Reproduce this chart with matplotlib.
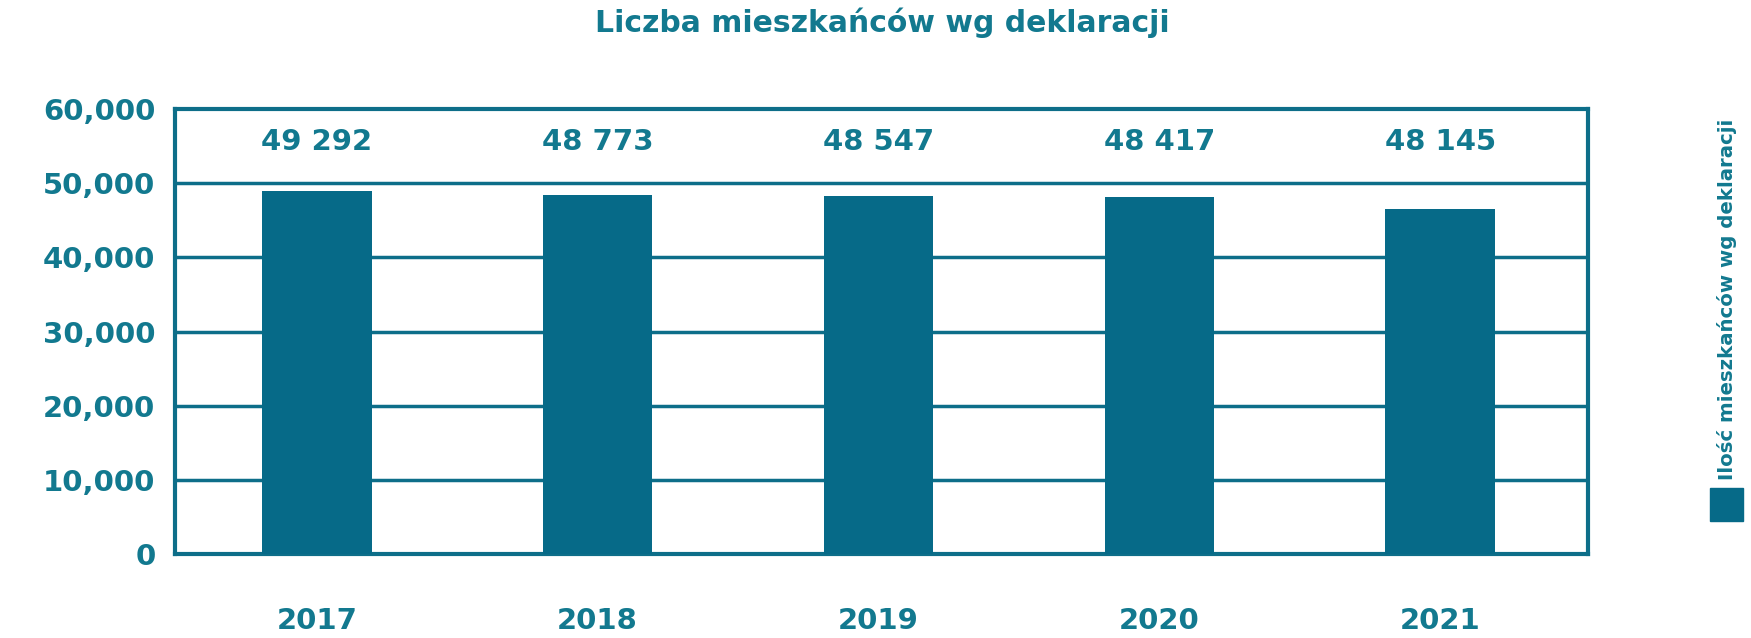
import matplotlib.pyplot as plt

years = ['2017', '2018', '2019', '2020', '2021']
bar_heights = [49000, 48450, 48300, 48150, 46500]
value_labels = ['49 292', '48 773', '48 547', '48 417', '48 145']
yticks = [0, 10000, 20000, 30000, 40000, 50000, 60000]
ytick_labels = ['0', '10,000', '20,000', '30,000', '40,000', '50,000', '60,000']
title = 'Liczba mieszkańców wg deklaracji'
legend_label = 'Ilość mieszkańców wg deklaracji'

bar_col = '#066a88'
line_col = '#0d6e89'
text_col = '#12798f'

plt.rcParams['font.family'] = ['DejaVu Sans']

fig = plt.figure(figsize=(17.51, 6.38), dpi=100)
ax = fig.add_axes([0.0999, 0.1317, 0.8071, 0.6973])

x = list(range(len(years)))
ax.bar(x, bar_heights, width=0.39, color=bar_col, zorder=3)

for i, lab in enumerate(value_labels):
    ax.text(i, 55500, lab, ha='center', va='center', fontsize=21, fontweight='bold', color=text_col)

ax.set_xlim(-0.505, 4.527)
ax.set_ylim(0, 60000)
ax.set_yticks(yticks)
ax.set_yticklabels(ytick_labels)
ax.set_xticks(x)
ax.set_xticklabels(years)
ax.tick_params(axis='both', length=0, labelsize=21, labelcolor=text_col)
ax.tick_params(axis='y', pad=14)
ax.tick_params(axis='x', pad=38)
for lbl in ax.get_xticklabels() + ax.get_yticklabels():
    lbl.set_fontweight('bold')

for y in yticks[1:-1]:
    ax.axhline(y, color=line_col, lw=2.5, zorder=1)
for s in ax.spines.values():
    s.set_color(line_col)
    s.set_linewidth(3)

fig.text(0.504, 0.965, title, ha='center', va='center', fontsize=21.5, fontweight='bold', color=text_col)

# legend drawn by hand: rotated label above a square
fig.text(0.9865, 0.53, legend_label, rotation=90, ha='center', va='center',
         fontsize=14.2, fontweight='bold', color=text_col)
fig.patches.append(plt.Rectangle((1710 / 1751, 1 - 521 / 638), 33 / 1751, 33 / 638,
                                 transform=fig.transFigure, color=bar_col, figure=fig))

fig.savefig('out.png', dpi=100)
